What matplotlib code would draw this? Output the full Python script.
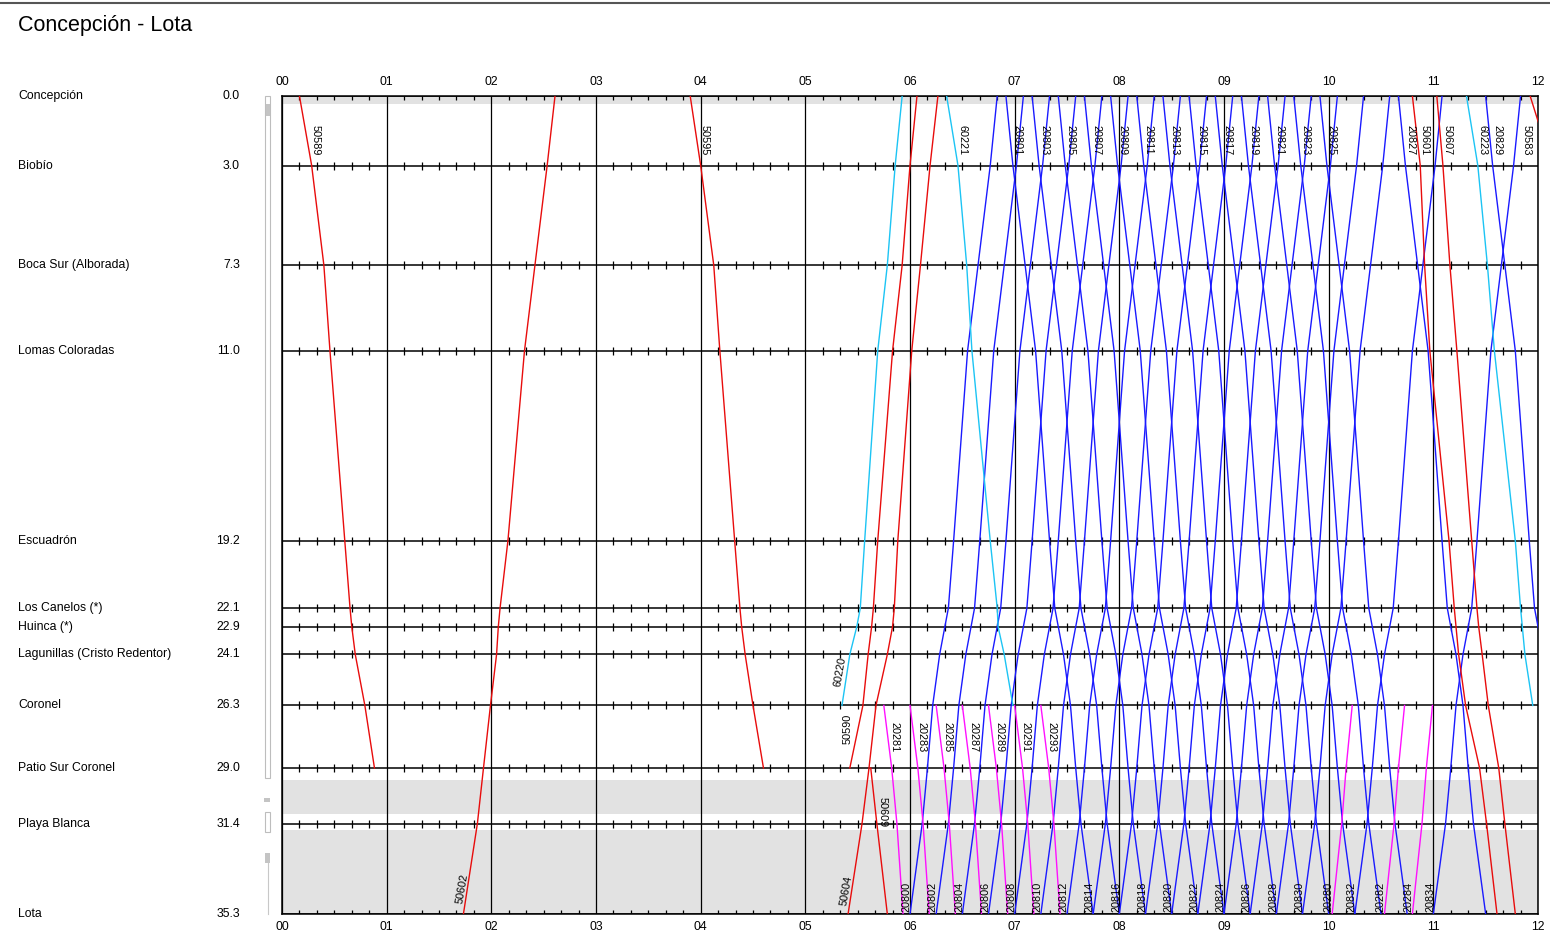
import matplotlib
matplotlib.use("Agg")
import matplotlib.pyplot as plt
import matplotlib.transforms as mtransforms
from matplotlib.patches import Rectangle
import numpy as np

plt.rcParams['font.family'] = ['Liberation Sans', 'DejaVu Sans']

# ---------------- data ----------------
STATIONS = ["Concepción", "Biobío", "Boca Sur (Alborada)", "Lomas Coloradas",
            "Escuadrón", "Los Canelos (*)", "Huinca (*)",
            "Lagunillas (Cristo Redentor)", "Coronel", "Patio Sur Coronel",
            "Playa Blanca", "Lota"]
KM = [0.0, 3.0, 7.3, 11.0, 19.2, 22.1, 22.9, 24.1, 26.3, 29.0, 31.4, 35.3]
HOURS = list(range(0, 13))

# regular service (blue): running minutes per station
BLUE_DOWN_RUN = [0, 4, 11, 17, 25, 28, 30, 33, 37, 40, 43, 50]
BLUE_UP_RUN = [50, 46, 39, 33, 25, 22, 20, 17, 13, 10, 7, 0]
BLUE_DOWN_IDS = ["20801", "20803", "20805", "20807", "20809", "20811", "20813",
                 "20815", "20817", "20819", "20821", "20823", "20825", "20827",
                 "20829"]
BLUE_DOWN_DEP = ["06:55", "07:10", "07:25", "07:40", "07:55", "08:10", "08:25",
                 "08:40", "08:55", "09:10", "09:25", "09:40", "09:55", "10:40",
                 "11:30"]
BLUE_UP_IDS = ["20800", "20802", "20804", "20806", "20808", "20810", "20812",
               "20814", "20816", "20818", "20820", "20822", "20824", "20826",
               "20828", "20830", "20832", "20834"]
BLUE_UP_DEP = ["06:00", "06:15", "06:30", "06:45", "07:00", "07:15", "07:30",
               "07:45", "08:00", "08:15", "08:30", "08:45", "09:00", "09:15",
               "09:30", "09:45", "10:15", "11:00"]

# Coronel - Lota shuttles (magenta): running minutes at Coronel, Patio Sur, Playa Blanca, Lota
MAG_DOWN_RUN = [0, 4.5, 7.5, 11]
MAG_UP_RUN = [11.5, 8, 5.5, 0]
MAG_DOWN_IDS = ["20281", "20283", "20285", "20287", "20289", "20291", "20293"]
MAG_DOWN_DEP = ["05:45", "06:00", "06:15", "06:30", "06:45", "07:00", "07:15"]
MAG_UP_IDS = ["20280", "20282", "20284"]
MAG_UP_DEP = ["10:02", "10:32", "10:48"]

# other trains: times at each station (None = not served)
T_50589 = ["00:10", "00:17", "00:24", "00:27.5", "00:36", "00:39", "00:40",
           "00:42", "00:47.5", "00:53", None, None]
T_50595 = ["03:54", "04:00", "04:07.5", "04:11", "04:19.5", "04:22.5", "04:23.5",
           "04:25.5", "04:30", "04:36", None, None]
T_50602 = ["02:36.5", "02:32", "02:25", "02:19", "02:09.5", "02:05", "02:04",
           "02:03", "01:59.5", "01:55.5", "01:52", "01:44"]
T_50590 = ["06:04", "06:00", "05:55.5", "05:50", "05:41.5", "05:39", "05:38",
           "05:36", "05:33", "05:25.5", None, None]
T_50604 = ["06:16", "06:11.5", "06:06", "06:01", "05:53", "05:51", "05:50",
           "05:47", "05:40.5", "05:36.5", "05:32.5", "05:24.5"]
T_50609 = [None, None, None, None, None, None, None, None, None,
           "05:37.5", "05:41", "05:47"]
T_50601 = ["10:48", "10:52.5", "10:55", "10:58", "11:09", "11:12", "11:13",
           "11:14.5", "11:18.5", "11:26.5", "11:30.5", "11:36.5"]
T_50607 = ["11:02", "11:05.5", "11:09.5", "11:13.5", "11:22", "11:25", "11:26",
           "11:28", "11:31.5", "11:37.5", "11:41", "11:47"]
T_50583 = ["11:55.5", "12:08", None, None, None, None, None, None, None, None,
           None, None]
T_60220 = ["05:55.5", "05:51.5", "05:47", "05:41.5", "05:34", "05:31.5",
           "05:29.5", "05:25.5", "05:21", None, None, None]
T_60221 = ["06:21", "06:27.5", "06:32.5", "06:35.5", "06:46", "06:50",
           "06:50.5", "06:54", "06:59", None, None, None]
T_60223 = ["11:19", "11:25.5", "11:31", "11:35", "11:47", "11:50", "11:51",
           "11:52.5", "11:57", None, None, None]

# ---------------- helpers ----------------
def tmin(s):
    h, m = s.split(":")
    return int(h) * 60 + float(m)


def path(times, kms=KM):
    t = [tmin(x) for x in times if x is not None]
    k = [km for x, km in zip(times, kms) if x is not None]
    return np.array(t), np.array(k)


def time_at(t, k, km):
    o = np.argsort(k)
    return float(np.interp(km, k[o], t[o]))


RED = "#e80c0c"
BLUE = "#1a1aff"
CYAN = "#1cc4f4"
MAG = "#ff10ff"
LW = 1.0
FS_LAB = 7.8

W, H = 1550, 941
fig = plt.figure(figsize=(W / 100, H / 100), dpi=100)
ax = fig.add_axes([282 / W, 1 - 914 / H, (1538 - 282) / W, (914 - 96) / H])
ax.set_xlim(0, 720)
ax.set_ylim(35.3, 0)
ax.set_xticks([])
ax.set_yticks([])
for s in ax.spines.values():
    s.set_color("black")
    s.set_linewidth(1.1)

# grey bands
for a, b in [(0.0, 0.35), (29.52, 30.99), (31.68, 35.3)]:
    ax.axhspan(a, b, color="#e2e2e2", lw=0, zorder=0)

# hour lines and station lines
ax.vlines([h * 60 for h in HOURS], 0, 35.3, color="black", lw=0.9, zorder=2)
ax.hlines(KM, 0, 720, color="black", lw=1.1, zorder=2)

# 10-minute ticks on each station line
tick_t = [m for m in range(10, 720, 10) if m % 60 != 0]
dk = 4 / 23.17
for km in KM:
    lo = km - dk if km > 0 else 0
    hi = km + dk if km < 35.3 else 35.3
    ax.vlines(tick_t, lo, hi, color="black", lw=0.9, zorder=2)

# hour labels top and bottom
for h in HOURS:
    ax.text(h * 60, -0.6, f"{h:02d}", ha="center", va="center", fontsize=8.8,
            clip_on=False)
    ax.text(h * 60, 35.87, f"{h:02d}", ha="center", va="center", fontsize=8.8,
            clip_on=False)

# station names and km
trans = mtransforms.blended_transform_factory(fig.transFigure, ax.transData)
for name, km in zip(STATIONS, KM):
    ax.text(18 / W, km, name, transform=trans, ha="left", va="center",
            fontsize=8.8)
    ax.text(240 / W, km, f"{km:.1f}", transform=trans, ha="right",
            va="center", fontsize=8.8)

# title
fig.text(18 / W, 1 - 25 / H, "Concepción - Lota", ha="left", va="center",
         fontsize=15.5)
fig.add_artist(plt.Line2D([0, 1], [1 - 3 / H, 1 - 3 / H], color="#555555",
                          lw=1.5, transform=fig.transFigure))

# left track diagram (decoration)
ov = fig.add_axes([0, 0, 1, 1], facecolor="none")
ov.set_xlim(0, W)
ov.set_ylim(H, 0)
ov.axis("off")
ov.add_patch(Rectangle((265, 96), 5, 682, fill=False, ec="#bdbdbd", lw=0.8))
ov.add_patch(Rectangle((265.5, 104), 4, 12, fc="#c4c4c4", ec="none"))
ov.add_patch(Rectangle((264, 798), 6, 4, fc="#c4c4c4", ec="none"))
ov.add_patch(Rectangle((265, 812), 5, 20, fill=False, ec="#bdbdbd", lw=0.8))
ov.add_patch(Rectangle((264.5, 853), 5.5, 10, fc="#c4c4c4", ec="none"))
ov.plot([267.5, 267.5], [863, 914], color="#c8c8c8", lw=0.8)


def draw(t, k, color):
    ax.plot(t, k, color=color, lw=LW, zorder=3, solid_joinstyle="miter")


def down_label(t, k, text):
    x = min(time_at(t, k, 2.5) + 3.5, 713.5)
    ax.text(x, 1.25, text, rotation=-90, ha="center", va="top",
            fontsize=FS_LAB, zorder=4)


def up_label(t, k, text):
    x = time_at(t, k, 34.5) - 3.3
    ax.text(x, 35.2, text, rotation=90, ha="center", va="bottom",
            fontsize=FS_LAB, zorder=4)


# blue regular trains
for tid, dep in zip(BLUE_DOWN_IDS, BLUE_DOWN_DEP):
    t = np.array([tmin(dep) + r for r in BLUE_DOWN_RUN])
    k = np.array(KM)
    draw(t, k, BLUE)
    down_label(t, k, tid)
for tid, dep in zip(BLUE_UP_IDS, BLUE_UP_DEP):
    t = np.array([tmin(dep) + r for r in BLUE_UP_RUN])
    k = np.array(KM)
    draw(t, k, BLUE)
    up_label(t, k, tid)

# magenta shuttles
for tid, dep in zip(MAG_DOWN_IDS, MAG_DOWN_DEP):
    t = np.array([tmin(dep) + r for r in MAG_DOWN_RUN])
    k = np.array(KM[8:])
    draw(t, k, MAG)
    x = time_at(t, k, 28.0) + 3.5
    ax.text(x, 27.0, tid, rotation=-90, ha="center", va="top",
            fontsize=FS_LAB, zorder=4)
for tid, dep in zip(MAG_UP_IDS, MAG_UP_DEP):
    t = np.array([tmin(dep) + r for r in MAG_UP_RUN])
    k = np.array(KM[8:])
    draw(t, k, MAG)
    up_label(t, k, tid)

# red trains
for tid, times in [("50589", T_50589), ("50595", T_50595),
                   ("50601", T_50601), ("50607", T_50607),
                   ("50583", T_50583)]:
    t, k = path(times)
    draw(t, k, RED)
    down_label(t, k, tid)

t, k = path(T_50602)
draw(t, k, RED)
ax.text(time_at(t, k, 34.2) - 3, 34.2, "50602", rotation=80, ha="center",
        va="center", fontsize=FS_LAB, zorder=4)

t, k = path(T_50604)
draw(t, k, RED)
ax.text(time_at(t, k, 34.3) - 3, 34.3, "50604", rotation=80, ha="center",
        va="center", fontsize=FS_LAB, zorder=4)

t, k = path(T_50590)
draw(t, k, RED)
ax.text(t.min() - 1.5, 27.3, "50590", rotation=90, ha="center",
        va="center", fontsize=FS_LAB, zorder=4)

t, k = path(T_50609)
draw(t, k, RED)
ax.text(time_at(t, k, 30.9) + 4.3, 30.9, "50609", rotation=-90, ha="center",
        va="center", fontsize=FS_LAB, zorder=4)

# cyan trains
t, k = path(T_60220)
draw(t, k, CYAN)
ax.text(time_at(t, k, 24.85) - 4, 24.85, "60220", rotation=80, ha="center",
        va="center", fontsize=FS_LAB, zorder=4)
for tid, times in [("60221", T_60221), ("60223", T_60223)]:
    t, k = path(times)
    draw(t, k, CYAN)
    down_label(t, k, tid)

fig.savefig("out.png", dpi=100)
